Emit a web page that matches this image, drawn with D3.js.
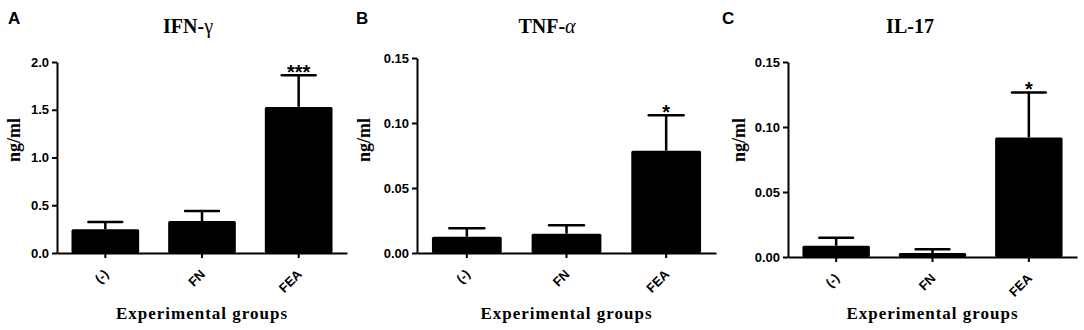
<!DOCTYPE html>
<html>
<head>
<meta charset="utf-8">
<script src="https://cdn.jsdelivr.net/npm/d3@7"></script>
<style>
  body { margin: 0; background: #fff; }
  .axis path, .axis line { stroke: #000; stroke-width: 2px; }
  .axis text { font-family: "Liberation Sans", Arial, sans-serif; font-weight: bold; font-size: 13px; fill: #000; }
  .serif { font-family: "Liberation Serif", "Times New Roman", serif; font-weight: bold; }
  .letter { font-family: "Liberation Sans", Arial, sans-serif; font-weight: bold; font-size: 17px; }
  .star { font-family: "Liberation Sans", Arial, sans-serif; font-weight: bold; font-size: 20px; }
</style>
</head>
<body>
<div id="box-div"></div>
<script>
// data
const groups = ['(-)', 'FN', 'FEA']

const ifnMean = [0.25, 0.335, 1.53]
const ifnErr = [0.075, 0.105, 0.33]
const ifnTicks = [0, 0.5, 1.0, 1.5, 2.0]
const ifnStars = ['', '', '***']

const tnfMean = [0.0125, 0.0148, 0.0787]
const tnfErr = [0.0065, 0.0065, 0.0273]
const tnfTicks = [0, 0.05, 0.10, 0.15]
const tnfStars = ['', '', '*']

const il17Mean = [0.0087, 0.003, 0.092]
const il17Err = [0.0061, 0.003, 0.0346]
const il17Ticks = [0, 0.05, 0.10, 0.15]
const il17Stars = ['', '', '*']

const svg = d3.select('#box-div').append('svg')
    .attr('width', 1084)
    .attr('height', 330)

// panel layout
const panels = [
    { letter: 'A', title: 'IFN-', greek: 'γ', italic: false, mean: ifnMean, err: ifnErr, ticks: ifnTicks, sig: ifnStars, fmt: '.1f', max: 2,
      x0: 57, x1: 347, yTop: 62, yBot: 253, letterX: 8, labelX: 20, titleX: 188 },
    { letter: 'B', title: 'TNF-', greek: 'α', italic: true, mean: tnfMean, err: tnfErr, ticks: tnfTicks, sig: tnfStars, fmt: '.2f', max: 0.15,
      x0: 417, x1: 716, yTop: 58, yBot: 253, letterX: 356, labelX: 370, titleX: 547 },
    { letter: 'C', title: 'IL-17', greek: '', italic: false, mean: il17Mean, err: il17Err, ticks: il17Ticks, sig: il17Stars, fmt: '.2f', max: 0.15,
      x0: 788, x1: 1077, yTop: 62, yBot: 257, letterX: 722, labelX: 745, titleX: 910 }
]

panels.forEach(p => {
    const g = svg.append('g')

    const x = d3.scaleBand()
        .domain(groups)
        .range([p.x0, p.x1])
        .paddingInner(0.3)
        .paddingOuter(0.15)

    const y = d3.scaleLinear()
        .domain([0, p.max])
        .range([p.yBot, p.yTop])

    const rows = groups.map((d, i) => ({ name: d, mean: p.mean[i], err: p.err[i], sig: p.sig[i] }))

    // bars
    g.selectAll('rect.bar')
        .data(rows)
        .join('rect')
        .attr('class', 'bar')
        .attr('x', d => x(d.name))
        .attr('y', d => y(d.mean))
        .attr('width', x.bandwidth())
        .attr('height', d => y(0) - y(d.mean))
        .attr('rx', 1.5)
        .attr('fill', '#000')

    // error bars
    const cx = d => x(d.name) + x.bandwidth() / 2
    const capW = x.bandwidth() * 0.25
    g.selectAll('line.err')
        .data(rows)
        .join('line')
        .attr('class', 'err')
        .attr('x1', cx).attr('x2', cx)
        .attr('y1', d => y(d.mean))
        .attr('y2', d => y(d.mean + d.err))
        .attr('stroke', '#000').attr('stroke-width', 2.5)
    g.selectAll('line.cap')
        .data(rows)
        .join('line')
        .attr('class', 'cap')
        .attr('x1', d => cx(d) - capW).attr('x2', d => cx(d) + capW)
        .attr('y1', d => y(d.mean + d.err))
        .attr('y2', d => y(d.mean + d.err))
        .attr('stroke', '#000').attr('stroke-width', 2.5)
        .attr('stroke-linecap', 'round')

    g.selectAll('text.star')
        .data(rows.filter(d => d.sig))
        .join('text')
        .attr('class', 'star')
        .attr('x', cx)
        .attr('y', d => y(d.mean + d.err) + 4)
        .attr('text-anchor', 'middle')
        .text(d => d.sig)

    // axes
    g.append('g')
        .attr('class', 'axis')
        .attr('transform', `translate(${p.x0},0)`)
        .call(d3.axisLeft(y).tickValues(p.ticks).tickFormat(d3.format(p.fmt)).tickSize(5).tickSizeOuter(0).tickPadding(3))

    const xAxis = g.append('g')
        .attr('class', 'axis')
        .attr('transform', `translate(0,${p.yBot})`)
        .call(d3.axisBottom(x).tickSize(5).tickSizeOuter(0))
    xAxis.selectAll('.tick text')
        .attr('text-anchor', 'end')
        .attr('dy', 0)
        .attr('x', 0)
        .attr('y', 0)
        .attr('transform', 'translate(4,22) rotate(-45)')

    // texts
    g.append('text')
        .attr('class', 'letter')
        .attr('x', p.letterX)
        .attr('y', 24)
        .text(p.letter)

    const title = g.append('text')
        .attr('class', 'serif')
        .attr('x', p.titleX)
        .attr('y', 33)
        .attr('text-anchor', 'middle')
        .attr('font-size', 20)
        .text(p.title)
    if (p.greek) {
        title.append('tspan')
            .attr('font-weight', 'normal')
            .attr('font-style', p.italic ? 'italic' : 'normal')
            .text(p.greek)
    }

    g.append('text')
        .attr('class', 'serif')
        .attr('font-size', 18)
        .attr('text-anchor', 'middle')
        .attr('transform', `translate(${p.labelX},140) rotate(-90)`)
        .text('ng/ml')

    g.append('text')
        .attr('class', 'serif')
        .attr('font-size', 17)
        .attr('letter-spacing', 1)
        .attr('text-anchor', 'middle')
        .attr('x', (p.x0 + p.x1) / 2)
        .attr('y', 319)
        .text('Experimental groups')
})
</script>
</body>
</html>
